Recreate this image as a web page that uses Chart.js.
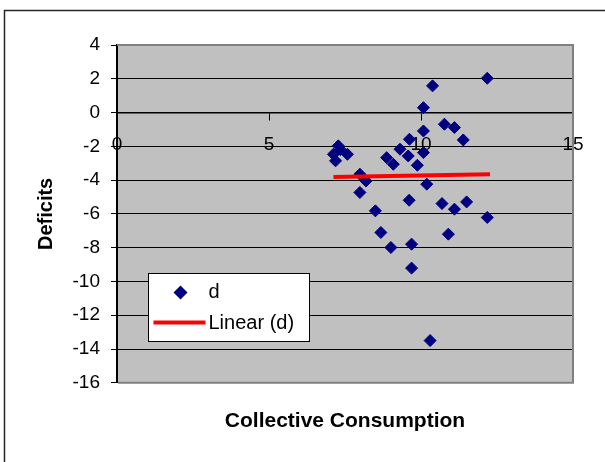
<!DOCTYPE html>
<html>
<head>
<meta charset="utf-8">
<script src="https://cdn.jsdelivr.net/npm/chart.js@4/dist/chart.umd.min.js"></script>
<style>
  body { margin: 0; background: #fff; }
  #wrap { width: 605px; height: 462px; }
</style>
</head>
<body>
<div id="wrap"><canvas id="chart" width="605" height="462"></canvas></div>
<script>
// values
const consumption = [12.18, 10.38, 10.08, 10.77, 11.10, 11.39, 10.08, 9.62, 9.31, 9.58,
  10.08, 9.88, 8.87, 9.09, 7.28, 7.12, 7.19, 7.58, 7.35, 7.99,
  8.19, 7.99, 10.19, 8.50, 9.61, 10.69, 11.10, 11.50, 12.18, 8.68,
  10.90, 9.01, 9.69, 9.69, 10.30];
const deficits = [2.03, 1.58, 0.29, -0.69, -0.89, -1.62, -1.09, -1.58, -2.17, -2.57,
  -2.37, -3.12, -2.67, -3.06, -1.97, -2.47, -2.86, -2.47, -2.20, -3.65,
  -4.05, -4.73, -4.24, -5.82, -5.19, -5.39, -5.72, -5.29, -6.21, -7.10,
  -7.20, -7.99, -7.79, -9.21, -13.5];
const trendX = [7.12, 12.27];
const trendY = [-3.81, -3.65];
const xTicks = [0, 5, 10, 15];
const yTicks = [4, 2, 0, -2, -4, -6, -8, -10, -12, -14, -16];

const navy = '#000080';
const red = '#FF0000';
const font = 'Liberation Sans, Arial, sans-serif';

const plotArea = {
  id: 'plotArea',
  beforeDraw(chart) {
    const {ctx, chartArea: a} = chart;
    ctx.save();
    // outer chart frame
    ctx.strokeStyle = '#262626';
    ctx.lineWidth = 1.5;
    ctx.strokeRect(4.5, 10.5, 1000, 1000);
    ctx.fillStyle = '#C0C0C0';
    ctx.fillRect(a.left, a.top, a.right - a.left, a.bottom - a.top);
    ctx.restore();
  },
  beforeDatasetsDraw(chart) {
    const {ctx, chartArea: a} = chart;
    ctx.save();
    ctx.strokeStyle = '#808080';
    ctx.lineWidth = 2;
    ctx.beginPath();
    ctx.moveTo(a.left, a.top);
    ctx.lineTo(a.right, a.top);
    ctx.lineTo(a.right, a.bottom);
    ctx.lineTo(a.left + 1, a.bottom);
    ctx.stroke();
    ctx.restore();
  }
};

const boxLegend = {
  id: 'boxLegend',
  afterDraw(chart) {
    const {ctx, chartArea: a} = chart;
    const sets = chart.data.datasets;
    const left = a.left + 31.5, top = a.top + 228.5;
    ctx.save();
    ctx.fillStyle = '#fff';
    ctx.fillRect(left, top, 161, 68);
    ctx.strokeStyle = '#000';
    ctx.lineWidth = 1;
    ctx.strokeRect(left, top, 161, 68);

    // scatter entry
    const cy1 = top + 19;
    ctx.fillStyle = navy;
    ctx.beginPath();
    ctx.moveTo(left + 32, cy1 - 7);
    ctx.lineTo(left + 39, cy1);
    ctx.lineTo(left + 32, cy1 + 7);
    ctx.lineTo(left + 25, cy1);
    ctx.closePath();
    ctx.fill();

    // trend entry
    const cy2 = top + 49;
    ctx.strokeStyle = red;
    ctx.lineWidth = 4;
    ctx.beginPath();
    ctx.moveTo(left + 5, cy2);
    ctx.lineTo(left + 57, cy2);
    ctx.stroke();

    ctx.fillStyle = '#000';
    ctx.font = '20px ' + font;
    ctx.textBaseline = 'middle';
    ctx.fillText(sets[0].label, left + 60, cy1);
    ctx.fillText(sets[1].label, left + 60, cy2 + 1);
    ctx.restore();
  }
};

new Chart(document.getElementById('chart'), {
  type: 'scatter',
  data: {
    datasets: [
      {
        label: 'd',
        data: consumption.map((x, i) => ({x: x, y: deficits[i]})),
        pointStyle: 'rectRot',
        pointRadius: 6,
        pointBorderWidth: 1,
        backgroundColor: navy,
        borderColor: navy,
        order: 2,
      },
      {
        label: 'Linear (d)',
        type: 'line',
        data: trendX.map((x, i) => ({x: x, y: trendY[i]})),
        showLine: true,
        pointRadius: 0,
        borderColor: red,
        borderWidth: 4,
        fill: false,
        order: 1,
      },
    ],
  },
  options: {
    responsive: false,
    animation: false,
    layout: {
      padding: {left: 20, right: 32, top: 45, bottom: 28},
    },
    scales: {
      x: {
        type: 'linear',
        position: {y: 0},
        min: 0,
        max: 15,
        afterBuildTicks(scale) {
          scale.ticks = xTicks.map(v => ({value: v}));
        },
        grid: {
          drawOnChartArea: false,
          drawTicks: true,
          tickLength: 7,
          color: '#000',
        },
        border: {display: true, color: '#000', width: 1.5},
        ticks: {
          color: '#000',
          font: {family: font, size: 19},
          padding: 14,
          maxRotation: 0,
          autoSkip: false,
        },
      },
      y: {
        type: 'linear',
        position: 'left',
        min: -16,
        max: 4,
        afterBuildTicks(scale) {
          scale.ticks = yTicks.map(v => ({value: v}));
        },
        afterFit(scale) {
          scale.width = 97;
        },
        grid: {
          color: '#000',
          lineWidth: 1,
          tickLength: 6,
        },
        border: {display: true, color: '#000', width: 2},
        ticks: {
          color: '#000',
          font: {family: font, size: 19},
          padding: 11,
        },
        title: {
          display: true,
          text: 'Deficits',
          color: '#000',
          font: {family: font, size: 20, weight: 'bold'},
          padding: {top: 14, bottom: 0},
        },
      },
    },
    plugins: {
      legend: {display: false},
      tooltip: {enabled: false},
      title: {
        display: true,
        position: 'bottom',
        fullSize: false,
        text: 'Collective Consumption',
        color: '#000',
        font: {family: font, size: 21, weight: 'bold'},
        padding: {top: 26, bottom: 0},
      },
    },
  },
  plugins: [plotArea, boxLegend],
});
</script>
</body>
</html>
